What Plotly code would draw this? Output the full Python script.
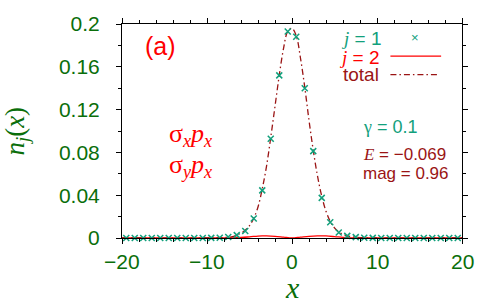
import plotly.graph_objects as go

# j = 1 markers (grid points) and densities
x_j1 = [-19.5 + k for k in range(40)]
n_j1 = ([0.0]*10 +
        [0.0001, 0.0003, 0.001,
         0.0027, 0.0066, 0.0182, 0.0445, 0.0927, 0.152, 0.193,
         0.188, 0.140, 0.0812, 0.0375, 0.0148, 0.0052, 0.002, 0.0008, 0.0003, 0.0001] +
        [0.0]*10)

# j = 2 density
x_j2 = [-20, -9, -8, -7, -6, -5, -4, -3.5, -3, -2, -1, 0, 1, 2, 3, 3.5, 4, 5, 6, 7, 8, 9, 20]
n_j2 = [0, 0, 0.0001, 0.0002, 0.0005, 0.0011, 0.0018, 0.002, 0.002, 0.0016, 0.0008, 0.0,
        0.0008, 0.0016, 0.002, 0.002, 0.0019, 0.0013, 0.0006, 0.0002, 0.0001, 0, 0]

# total density
x_tot = [-20, -10, -9, -8, -7, -6.5, -6, -5.5, -5, -4.5, -4, -3.5, -3, -2.5, -2, -1.5, -1, -0.5, 0,
         0.5, 1, 1.5, 2, 2.5, 3, 3.5, 4, 4.5, 5, 5.5, 6, 6.5, 7, 8, 9, 10, 20]
n_tot = [0, 0, 0.0001, 0.0004, 0.0012, 0.0028, 0.0045, 0.0072, 0.0115, 0.0185, 0.029, 0.046, 0.067,
         0.094, 0.123, 0.152, 0.177, 0.193, 0.196, 0.189, 0.168, 0.141, 0.110, 0.082, 0.058, 0.039,
         0.025, 0.0155, 0.0095, 0.0057, 0.0034, 0.002, 0.0012, 0.0004, 0.0001, 0, 0]

x_ticks = [-20, -10, 0, 10, 20]
x_tick_text = ["−20", "−10", "0", "10", "20"]
y_ticks = [0, 0.04, 0.08, 0.12, 0.16, 0.2]
y_tick_text = ["0", "0.04", "0.08", "0.12", "0.16", "0.2"]

TEAL = "#12a07c"
RED = "#ff0000"
DRED = "#9a1414"
GREEN = "#0a6e0a"

fig = go.Figure()
fig.add_trace(go.Scatter(x=x_j2, y=n_j2, mode="lines", line=dict(color=RED, width=1.3),
                         line_shape="spline", showlegend=False))
fig.add_trace(go.Scatter(x=x_tot, y=n_tot, mode="lines", line=dict(color=DRED, width=1.3, dash="6px,3px,1.5px,3px"),
                         line_shape="spline", showlegend=False))
fig.add_trace(go.Scatter(x=x_j1, y=n_j1, mode="markers",
                         marker=dict(symbol="x-thin", size=6, line=dict(color=TEAL, width=1.5)),
                         showlegend=False, cliponaxis=False))

TICKFONT = dict(family="Liberation Sans, Arial", size=21, color=GREEN)
axis_common = dict(showline=True, linecolor="black", linewidth=1, mirror="ticks",
                   ticks="outside", ticklen=5, tickcolor="black", showgrid=False, zeroline=False,
                   tickfont=TICKFONT)
fig.update_xaxes(range=[-20, 20], tickvals=x_ticks, showticklabels=False,
                 minor=dict(dtick=2, ticks="outside", ticklen=3, tickcolor="black"), **axis_common)
fig.update_yaxes(range=[0, 0.2], tickvals=y_ticks, ticktext=y_tick_text, ticklabelstandoff=12,
                 minor=dict(dtick=0.02, ticks="outside", ticklen=3, tickcolor="black"), **axis_common)

ann = []
SERIF = "Liberation Serif, Times New Roman, serif"
SANS = "Liberation Sans, Arial"
ann.append(dict(x=16, y=128, text="<i>n<sub>j</sub></i>(<i>x</i>)",
                textangle=-90, showarrow=False, font=dict(family=SERIF, size=27, color=GREEN)))
ann.append(dict(text="<i>x</i>", x=293, y=289, showarrow=False, font=dict(family=SERIF, size=30, color=GREEN)))
ann.append(dict(text="(a)", x=161, y=41, showarrow=False, font=dict(family=SANS, size=25, color=RED)))
ann.append(dict(text="σ<sub><i>x</i></sub><i>p</i><sub><i>x</i></sub>", x=191, y=132, showarrow=False,
                font=dict(family=SERIF, size=26, color=RED)))
ann.append(dict(text="σ<sub><i>y</i></sub><i>p</i><sub><i>x</i></sub>", x=191, y=164, showarrow=False,
                font=dict(family=SERIF, size=26, color=RED)))
ann.append(dict(text="<i><span style='font-family:Liberation Serif'>j</span></i> = 1", x=386, y=33,
                xanchor="right", showarrow=False, font=dict(family=SANS, size=19, color=TEAL)))
ann.append(dict(text="<i><span style='font-family:Liberation Serif'>j</span></i> = 2", x=384, y=52,
                xanchor="right", showarrow=False, font=dict(family=SANS, size=19, color=RED)))
ann.append(dict(text="total", x=383, y=70, xanchor="right", showarrow=False,
                font=dict(family=SANS, size=19, color=DRED)))
ann.append(dict(text="×", x=417, y=32, showarrow=False, font=dict(family=SANS, size=13, color=TEAL)))
ann.append(dict(text="<span style='font-family:Liberation Serif'>γ</span> = 0.1", x=362, y=124,
                xanchor="left", showarrow=False, font=dict(family=SANS, size=18, color=TEAL)))
ann.append(dict(text="<i><span style='font-family:Liberation Serif'>E</span></i> = −0.069", x=362, y=152,
                xanchor="left", showarrow=False, font=dict(family=SANS, size=17, color=DRED)))
ann.append(dict(text="mag = 0.96", x=362, y=172, xanchor="left", showarrow=False,
                font=dict(family=SANS, size=17, color=DRED)))

for a in ann:
    a["xref"] = "paper"
    a["yref"] = "paper"
    px, py = a["x"], a["y"]
    a["x"] = (px - 122) / (464 - 122)
    a["y"] = (238 - py) / (238 - 18)
    a.setdefault("xanchor", "center")
    a.setdefault("yanchor", "middle")

# x tick labels placed at data positions
for v, t in zip(x_ticks, x_tick_text):
    ann.append(dict(x=v, xref="x", y=(238 - 262) / 220, yref="paper", text=t, showarrow=False,
                    xanchor="center", yanchor="middle", font=TICKFONT))
fig.update_layout(annotations=ann)

shapes = [
    dict(type="line", xref="paper", yref="paper", x0=(392-122)/342, x1=(443-122)/342,
         y0=(238-51)/220, y1=(238-51)/220, line=dict(color=RED, width=1.3)),
    dict(type="line", xref="paper", yref="paper", x0=(392-122)/342, x1=(441-122)/342,
         y0=(238-70)/220, y1=(238-70)/220, line=dict(color=DRED, width=1.3, dash="6px,3px,1.5px,3px")),
]
fig.update_layout(shapes=shapes)

fig.update_layout(width=480, height=303, margin=dict(l=122, r=16, t=18, b=65),
                  plot_bgcolor="white", paper_bgcolor="white", showlegend=False)
fig.write_html("out.html", config={"displayModeBar": False},
               post_script="document.body.style.margin='0';document.body.style.overflow='hidden';")
